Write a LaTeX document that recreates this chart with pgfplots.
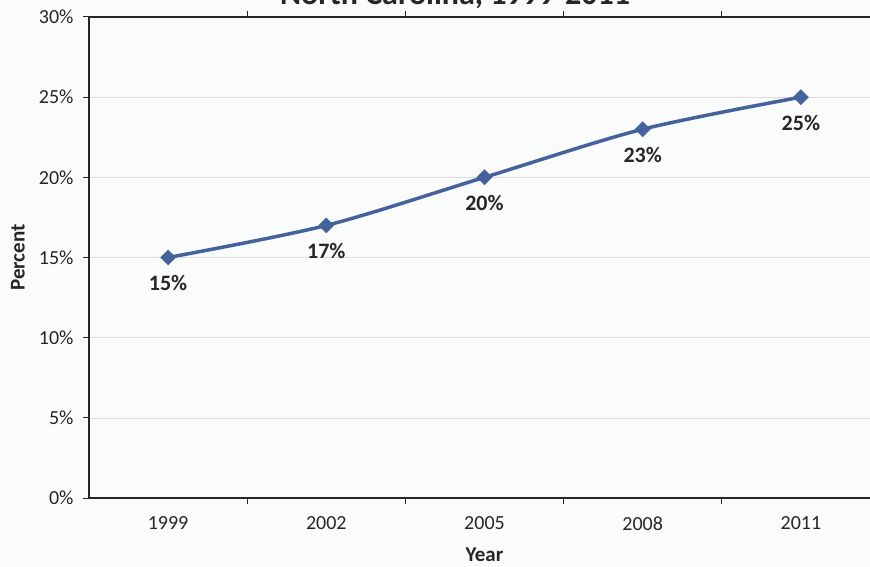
\documentclass[border=0pt]{standalone}
\usepackage{pgfplots}
\pgfplotsset{compat=1.18}
\usepackage{fontspec}
\setmainfont{Carlito}
\definecolor{linec}{RGB}{68,98,156}
\definecolor{txt}{RGB}{38,38,38}
\definecolor{gridc}{RGB}{220,220,220}
\definecolor{bg}{RGB}{250,251,251}
\begin{document}
\begin{tikzpicture}
\useasboundingbox (0,0) rectangle (870pt,566pt);
\begin{scope}
\clip (0,0) rectangle (870pt,566pt);
\fill[bg] (0,0) rectangle (870pt,566pt);
\begin{axis}[
  at={(89pt,68pt)}, anchor=south west,
  scale only axis, width=791pt, height=481pt,
  xmin=-0.5, xmax=4.5, ymin=0, ymax=30,
  xtick={0,1,2,3,4},
  xticklabels={1999,2002,2005,2008,2011},
  major x tick style={draw=none},
  minor xtick={0.5,1.5,2.5,3.5},
  ytick={0,5,10,15,20,25,30},
  yticklabel={\pgfmathprintnumber{\tick}\%},
  /pgf/number format/assume math mode=true,
  tick align=outside, major tick length=6pt, minor tick length=6pt,
  tick style={draw=txt, line width=1pt},
  axis line style={draw=txt, line width=1.4pt},
  ymajorgrids, grid style={draw=gridc, line width=0.6pt},
  tick label style={font=\fontsize{20}{23}\selectfont, text=txt},
  xticklabel style={yshift=-9pt},
  yticklabel style={xshift=-6pt},
  xlabel={\textbf{Year}}, ylabel={\textbf{Percent}},
  label style={font=\fontsize{21}{24}\selectfont, text=txt},
  xlabel style={at={(axis description cs:0.5,0)}, anchor=center, yshift=-57pt},
  ylabel style={at={(axis description cs:0,0.5)}, anchor=center, yshift=71pt},
  axis background/.style={fill=bg},
  clip=false,
]
\addplot[color=linec, line width=3.5pt, smooth, mark=square*,
  mark size=5.3pt, mark options={rotate=45, fill=linec, draw=linec, line width=0.5pt},
  nodes near coords={\pgfmathprintnumber{\pgfplotspointmeta}\%},
  every node near coord/.append style={font=\bfseries\fontsize{22}{24}\selectfont, text=txt, anchor=center, inner sep=0pt, yshift=-26pt}]
  coordinates {(0,15) (1,17) (2,20) (3,23) (4,25)};
\end{axis}
\node[anchor=base, font=\bfseries\fontsize{32}{36}\selectfont, text=txt] at (455pt,561pt) {North Carolina, 1999-2011};
\end{scope}
\end{tikzpicture}
\end{document}
